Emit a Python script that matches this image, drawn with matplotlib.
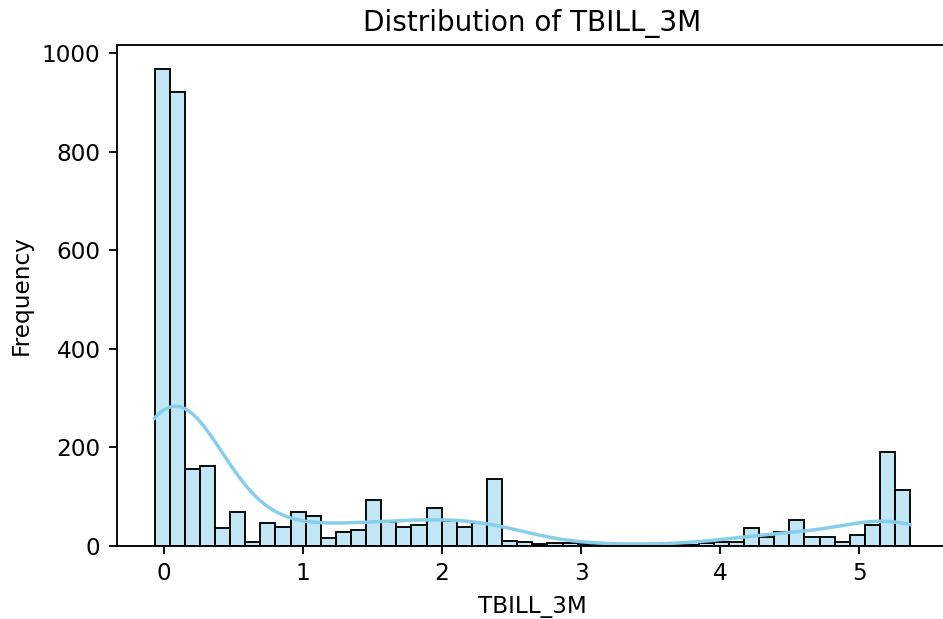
import numpy as np
import matplotlib
matplotlib.use("Agg")
import matplotlib.pyplot as plt
import seaborn as sns

# Histogram of TBILL_3M: 50 equal-width bins between the data min and max
data_min = -0.065
data_max = 5.365
counts = [968, 921, 157, 163, 36, 69, 9, 46, 39, 69,
          60, 16, 29, 33, 93, 49, 39, 43, 77, 51,
          39, 47, 136, 10, 9, 4, 6, 6, 4, 5,
          3, 3, 2, 2, 2, 3, 6, 9, 9, 36,
          19, 29, 53, 19, 19, 9, 22, 42, 190, 113]
title = "Distribution of TBILL_3M"
xlabel = "TBILL_3M"
ylabel = "Frequency"

edges = np.linspace(data_min, data_max, len(counts) + 1)
centers = (edges[:-1] + edges[1:]) / 2
values = np.repeat(centers, counts)

k = 1.67  # scale of the original rendering
fig = plt.figure(figsize=(9.43, 6.19), dpi=100)
ax = fig.add_axes([0.1238, 0.1179, 0.8815, 0.8094])

sns.histplot(x=values, bins=edges, kde=True, color="skyblue",
             edgecolor="black", linewidth=1.0 * k * 0.8, ax=ax,
             kde_kws=dict(cut=0.5, clip=(data_min, data_max)),
             line_kws=dict(linewidth=1.5 * k))

ax.set_title(title, fontsize=12 * k, pad=6 * k)
ax.set_xlabel(xlabel, fontsize=10 * k, labelpad=4 * k)
ax.set_ylabel(ylabel, fontsize=10 * k, labelpad=4 * k)
ax.tick_params(labelsize=10 * k, length=3.5 * k, width=0.8 * k, pad=3.5 * k)
for s in ax.spines.values():
    s.set_linewidth(0.8 * k)

fig.savefig("out.png", dpi=100)
